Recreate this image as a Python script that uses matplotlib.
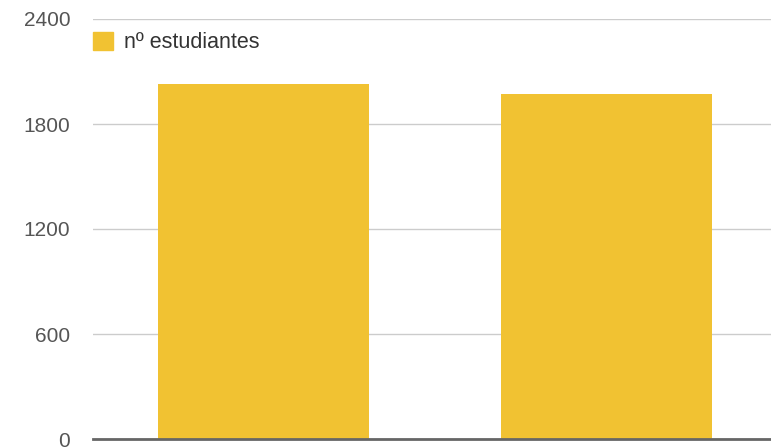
import matplotlib
matplotlib.use("Agg")
import matplotlib.pyplot as plt
from matplotlib.patches import Patch

# datos
categorias = ["A", "B"]
estudiantes = [2030, 1970]
ticks_y = [0, 600, 1200, 1800, 2400]

plt.rcParams["font.family"] = ["Liberation Sans", "DejaVu Sans"]

fig = plt.figure(figsize=(7.71, 4.48), dpi=100)
ax = fig.add_axes([92.5 / 771, 9 / 448, 1 - 92.5 / 771, 420 / 448])

x = range(len(categorias))
ax.bar(x, estudiantes, width=0.616, color="#f1c232", zorder=3)

ax.set_ylim(0, 2400)
ax.set_xlim(-0.5, 1.481)
ax.set_yticks(ticks_y)
ax.set_yticklabels([str(t) for t in ticks_y])
ax.set_xticks([])
ax.grid(axis="y", color="#cccccc", linewidth=1, zorder=0)
ax.axhline(0, color="#666666", linewidth=2, zorder=4, clip_on=False)
for s in ax.spines.values():
    s.set_visible(False)
ax.tick_params(axis="y", length=0, pad=16, labelsize=15, labelcolor="#555555")

ax.legend(handles=[Patch(color="#f1c232", label="nº estudiantes")],
          loc="upper left", bbox_to_anchor=(0.0, 0.97), frameon=False,
          fontsize=15.5, handlelength=0.93, handleheight=0.93, handletextpad=0.55,
          borderaxespad=0, borderpad=0, labelcolor="#333333")

fig.savefig("out.png", dpi=100)
